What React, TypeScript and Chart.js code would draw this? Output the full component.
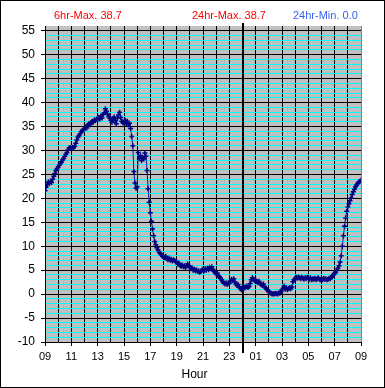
import React, { useEffect, useRef } from "react";
import { Chart, registerables } from "chart.js";

Chart.register(...registerables);

// ---- data (temperature every 5 minutes, starting 09:00) ----
const START_HOUR = 9;
const SAMPLE_MINUTES = 5;
const TEMPS: number[] = [
  21.6, 22.3, 22.9, 23.4, 23.1, 23.6, 23.3, 24.0, 24.6, 25.2, 25.8, 26.2,
  26.5, 26.9, 27.3, 27.6, 28.0, 28.3, 28.8, 29.2, 29.6, 30.1, 30.5, 30.6,
  30.4, 30.7, 30.5, 30.9, 31.5, 32.2, 32.8, 33.1, 33.5, 33.9, 34.2, 34.3,
  34.6, 34.9, 34.7, 35.3, 35.6, 35.4, 35.8, 36.1, 35.9, 36.4, 36.2, 36.6,
  36.4, 36.9, 36.6, 37.2, 36.8, 37.5, 37.9, 38.7, 38.2, 37.6, 37.1, 36.8,
  36.3, 35.9, 36.6, 37.0, 36.2, 35.6, 36.8, 37.4, 38.0, 36.9, 36.1, 35.8,
  35.8, 36.3, 35.6, 36.1, 35.4, 35.7, 34.6, 32.9, 31.0, 25.6, 23.2, 22.1,
  22.4, 29.6, 28.3, 28.9, 27.9, 28.6, 28.2, 29.5, 28.8, 25.8, 22.0, 19.2,
  17.0, 15.2, 13.6, 12.2, 11.0, 10.3, 9.7, 9.2, 8.8, 8.5, 8.2, 7.9,
  7.8, 7.6, 7.9, 7.4, 7.2, 7.5, 7.1, 7.3, 6.9, 7.2, 7.0, 6.8,
  6.7, 6.3, 6.5, 6.0, 5.8, 6.1, 5.7, 5.9, 5.5, 6.0, 6.3, 5.9,
  5.6, 5.3, 5.5, 5.0, 5.2, 4.9, 5.1, 4.7, 4.9, 4.5, 4.8, 5.0,
  5.2, 4.9, 5.3, 5.0, 5.4, 5.1, 5.6, 5.3, 5.7, 5.2, 4.8, 4.5,
  4.2, 4.4, 3.9, 3.6, 3.3, 3.0, 2.6, 2.3, 2.1, 2.4, 2.0, 2.3,
  2.2, 2.7, 3.1, 2.8, 3.2, 2.6, 2.1, 1.8, 2.0, 1.5, 1.2, 0.9,
  1.4, 1.6, 1.3, 1.5, 1.7, 1.4, 1.6, 2.2, 3.0, 3.4, 3.1, 2.8,
  3.0, 2.6, 2.4, 2.7, 2.2, 2.0, 1.8, 2.1, 1.6, 1.3, 1.0, 0.8,
  0.5, 0.3, 0.2, 0.0, 0.1, 0.0, 0.2, 0.1, 0.0, 0.3, 0.2, 0.5,
  0.9, 1.2, 1.7, 1.0, 1.3, 0.9, 1.2, 1.4, 1.1, 1.5, 2.6, 3.0,
  3.2, 3.5, 3.3, 3.6, 3.4, 3.2, 3.5, 3.3, 3.1, 3.4, 3.2, 3.5,
  3.3, 3.1, 3.4, 3.0, 3.2, 3.1, 3.3, 3.0, 3.2, 3.4, 3.1, 3.0,
  3.2, 3.0, 3.3, 3.1, 3.2, 3.0, 3.1, 3.3, 3.2, 3.5, 3.8, 4.1,
  4.3, 4.6, 5.0, 5.4, 5.9, 6.7, 8.0, 10.0, 12.2, 14.2, 15.9, 17.3,
  18.2, 18.9, 19.5, 20.1, 20.8, 21.4, 21.9, 22.4, 22.8, 23.1, 23.4, 23.6,
  23.8,
];

const Y_MIN = -10;
const Y_MAX = 56;
const Y_LABEL_MAX = 55;
const X_SPAN_HOURS = 24;
const HEADER_TEXTS = ["6hr-Max. 38.7", "24hr-Max. 38.7", "24hr-Min. 0.0"];
const HEADER_COLORS = ["#ff0000", "#ff0000", "#3a62f2"];
const X_TITLE = "Hour";

const W = 385;
const H = 388;
const FONT = "'Liberation Sans', Arial, sans-serif";

const hourLabel = (offset: number) => {
  const h = (START_HOUR + offset) % 24;
  return (h < 10 ? "0" : "") + h;
};

const decorPlugin = {
  id: "decor",
  beforeDraw(chart: any) {
    const { ctx, chartArea: a } = chart;
    ctx.save();
    ctx.fillStyle = "#ffffff";
    ctx.fillRect(0, 0, W, H);
    ctx.fillStyle = "#c0c0c0";
    ctx.fillRect(a.left, a.top, a.right - a.left, a.bottom - a.top);
    ctx.restore();
  },
  beforeDatasetsDraw(chart: any) {
    const { ctx, chartArea: a } = chart;
    const midnight = 24 - START_HOUR;
    const x = Math.round(chart.scales.x.getPixelForValue(midnight));
    ctx.save();
    ctx.fillStyle = "#000000";
    ctx.fillRect(x - 1, a.top - 3, 2, a.bottom - a.top + 14);
    ctx.restore();
  },
  afterDraw(chart: any) {
    const { ctx } = chart;
    ctx.save();
    ctx.font = `11px ${FONT}`;
    ctx.textBaseline = "alphabetic";
    ctx.textAlign = "left";
    const xs = [54, 192, 293];
    HEADER_TEXTS.forEach((t, i) => {
      ctx.fillStyle = HEADER_COLORS[i];
      ctx.fillText(t, xs[i], 18.5);
    });
    ctx.fillStyle = "#000000";
    ctx.font = `12px ${FONT}`;
    ctx.textAlign = "center";
    ctx.fillText(X_TITLE, 194.5, 378);
    ctx.strokeStyle = "#000000";
    ctx.lineWidth = 1;
    ctx.strokeRect(0.5, 0.5, W - 1, H - 1);
    ctx.restore();
  },
};

export default function App() {
  const ref = useRef<HTMLCanvasElement | null>(null);
  useEffect(() => {
    if (!ref.current) return;
    const points = TEMPS.map((v, i) => ({ x: (i * SAMPLE_MINUTES) / 60, y: v }));
    const chart = new Chart(ref.current, {
      type: "line",
      data: {
        datasets: [
          {
            data: points,
            borderColor: "#10109a",
            borderWidth: 1,
            pointStyle: "cross",
            pointRadius: 2.5,
            pointBorderWidth: 1.5,
            pointBorderColor: "#000080",
            pointBackgroundColor: "#000080",
            tension: 0,
          },
        ],
      },
      options: {
        responsive: false,
        animation: false,
        devicePixelRatio: 1,
        layout: { padding: { left: 0, right: 24, top: 26, bottom: 0 } },
        plugins: { legend: { display: false }, tooltip: { enabled: false }, title: { display: false } },
        scales: {
          x: {
            type: "linear",
            min: 0,
            max: X_SPAN_HOURS,
            afterFit: (s: any) => {
              s.height = 46;
            },
            ticks: {
              stepSize: 1,
              autoSkip: false,
              maxRotation: 0,
              padding: 4,
              color: "#000000",
              font: { family: FONT, size: 11 },
              callback: (v: any) => (Number(v) % 2 === 0 ? hourLabel(Number(v)) : ""),
            },
            grid: {
              color: (c: any) => (c.tick && c.tick.value === X_SPAN_HOURS ? "#808080" : "#000000"),
              lineWidth: 1,
              tickLength: 4,
              tickColor: (c: any) => (c.tick && c.tick.value % 2 === 0 ? "#000000" : "rgba(0,0,0,0)"),
            },
            border: { display: true, color: "#000000", width: 1 },
          },
          y: {
            type: "linear",
            min: Y_MIN,
            max: Y_MAX,
            afterFit: (s: any) => {
              s.width = 45;
            },
            ticks: {
              stepSize: 1,
              autoSkip: false,
              padding: 6,
              color: "#000000",
              font: { family: FONT, size: 12 },
              callback: (v: any) => {
                const n = Number(v);
                return n % 5 === 0 && n <= Y_LABEL_MAX ? String(n) : "";
              },
            },
            grid: {
              color: (c: any) => {
                const v = c.tick ? c.tick.value : 0;
                if (v > Y_LABEL_MAX) return "rgba(0,0,0,0)";
                return v % 5 === 0 ? "#000000" : "#00ffff";
              },
              lineWidth: 1,
              tickLength: 4,
              tickColor: (c: any) => {
                const v = c.tick ? c.tick.value : 0;
                return v % 5 === 0 && v <= Y_LABEL_MAX ? "#000000" : "rgba(0,0,0,0)";
              },
            },
            border: { display: true, color: "#000000", width: 1 },
          },
        },
      },
      plugins: [decorPlugin],
    });
    return () => chart.destroy();
  }, []);
  return (
    <div style={{ position: "fixed", left: 0, top: 0, width: W, height: H }}>
      <canvas ref={ref} width={W} height={H} style={{ display: "block", width: W, height: H }} />
    </div>
  );
}
